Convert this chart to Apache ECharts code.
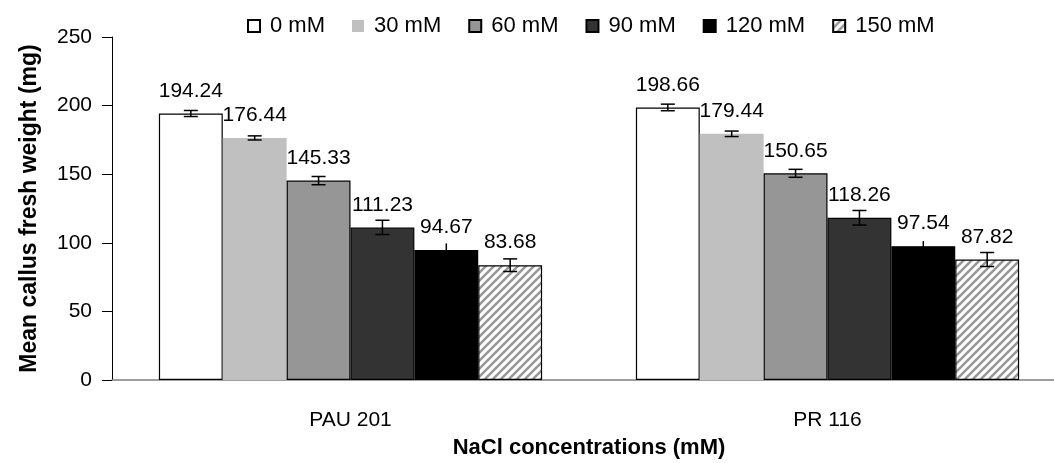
<!DOCTYPE html>
<html>
<head>
<meta charset="utf-8">
<script src="https://cdn.jsdelivr.net/npm/echarts@6/dist/echarts.min.js"></script>
<style>html,body{margin:0;padding:0;background:#fff}#c{width:1054px;height:463px}</style>
</head>
<body>
<div id="c"></div>
<script>
// ---- data ----
var categories = ['PAU 201', 'PR 116'];
var seriesNames = ['0 mM', '30 mM', '60 mM', '90 mM', '120 mM', '150 mM'];
var mM0   = [194.24, 198.66];
var mM30  = [176.44, 179.44];
var mM60  = [145.33, 150.65];
var mM90  = [111.23, 118.26];
var mM120 = [94.67, 97.54];
var mM150 = [83.68, 87.82];
var err0   = [2.2, 2.4];
var err30  = [1.5, 2.0];
var err60  = [3.0, 2.9];
var err90  = [5.2, 5.3];
var err120 = [4.9, 3.7];
var err150 = [4.6, 5.1];
var yTicks = [0, 50, 100, 150, 200, 250];

var values = [mM0, mM30, mM60, mM90, mM120, mM150];
var errors = [err0, err30, err60, err90, err120, err150];

// hatch pattern
var pc = document.createElement('canvas');
pc.width = 8; pc.height = 8;
var g = pc.getContext('2d');
g.fillStyle = '#fff'; g.fillRect(0, 0, 8, 8);
g.strokeStyle = '#999999'; g.lineWidth = 2.6;
g.beginPath();
g.moveTo(-1, 9); g.lineTo(9, -1);
g.moveTo(-1, 1); g.lineTo(1, -1);
g.moveTo(7, 9); g.lineTo(9, 7);
g.stroke();

var styles = [
  {color: '#ffffff', borderColor: '#000', borderWidth: 1.2},
  {color: '#c0c0c0', borderColor: '#c0c0c0', borderWidth: 0},
  {color: '#969696', borderColor: '#000', borderWidth: 1.2},
  {color: '#333333', borderColor: '#000', borderWidth: 1.2},
  {color: '#000000', borderColor: '#000', borderWidth: 1.2},
  {color: {image: pc, repeat: 'repeat'}, borderColor: '#000', borderWidth: 1.2}
];
var caps = [7, 7, 7, 7, 0, 7];
var catGap = 0.1966;
var FONT = 'Arial, "Liberation Sans", sans-serif';

var series = [];
seriesNames.forEach(function (n, i) {
  series.push({
    name: n, type: 'bar', data: values[i],
    barGap: '0%', barCategoryGap: (catGap * 100) + '%',
    itemStyle: styles[i],
    label: {
      show: true, position: 'top', distance: 12,
      color: '#000', fontSize: 21, fontFamily: FONT,
      formatter: function (p) { return p.value.toFixed(2); }
    },
    emphasis: {disabled: true},
    animation: false
  });
});

var errData = [];
seriesNames.forEach(function (n, i) {
  categories.forEach(function (c, j) {
    errData.push([j, values[i][j], errors[i][j], i]);
  });
});

series.push({
  type: 'custom', name: 'err', data: errData, z: 10, animation: false,
  silent: true,
  renderItem: function (params, api) {
    var j = api.value(0), v = api.value(1), e = api.value(2), i = api.value(3);
    var band = api.size([1, 0])[0];
    var bw = band * (1 - catGap) / seriesNames.length;
    var c = api.coord([j, v]);
    var x = c[0] - band * (1 - catGap) / 2 + bw * (i + 0.5);
    var yt = api.coord([j, v + e])[1];
    var yb = api.coord([j, v - e])[1];
    var cw = caps[i];
    var st = {stroke: '#000', lineWidth: 1.5};
    var ch = [{type: 'line', shape: {x1: x, y1: yt, x2: x, y2: yb}, style: st}];
    if (cw > 0) {
      ch.push({type: 'line', shape: {x1: x - cw, y1: yt, x2: x + cw, y2: yt}, style: st});
      ch.push({type: 'line', shape: {x1: x - cw, y1: yb, x2: x + cw, y2: yb}, style: st});
    }
    return {type: 'group', children: ch};
  }
});

var chart = echarts.init(document.getElementById('c'), null, {renderer: 'canvas'});
chart.setOption({
  backgroundColor: '#fff',
  animation: false,
  textStyle: {fontFamily: FONT},
  legend: {
    data: seriesNames, left: 242, top: 10, itemWidth: 12, itemHeight: 12, itemGap: 27,
    icon: 'rect',
    textStyle: {fontSize: 22, color: '#000', fontFamily: FONT, padding: [0, 0, 0, 5]},
    selectedMode: false
  },
  grid: {left: 112, right: -12, top: 37, bottom: 83, containLabel: false, outerBoundsMode: 'none'},
  xAxis: {
    type: 'category', data: categories,
    axisLine: {lineStyle: {color: '#808080', width: 1.5}},
    axisTick: {show: false},
    axisLabel: {color: '#000', fontSize: 21, margin: 30, fontFamily: FONT},
    name: 'NaCl concentrations (mM)', nameLocation: 'middle', nameGap: 57,
    nameTextStyle: {fontWeight: 'bold', fontSize: 22, color: '#000', fontFamily: FONT}
  },
  yAxis: {
    type: 'value', min: yTicks[0], max: yTicks[yTicks.length - 1], interval: yTicks[1] - yTicks[0],
    axisLine: {show: true, lineStyle: {color: '#000', width: 1}},
    axisTick: {show: true, length: 10, lineStyle: {color: '#000'}},
    splitLine: {show: false},
    axisLabel: {color: '#000', fontSize: 21, margin: 20, fontFamily: FONT},
    name: 'Mean callus fresh weight (mg)', nameLocation: 'middle', nameGap: 71,
    nameTextStyle: {fontWeight: 'bold', fontSize: 23, color: '#000', fontFamily: FONT}
  },
  series: series
});
</script>
</body>
</html>
